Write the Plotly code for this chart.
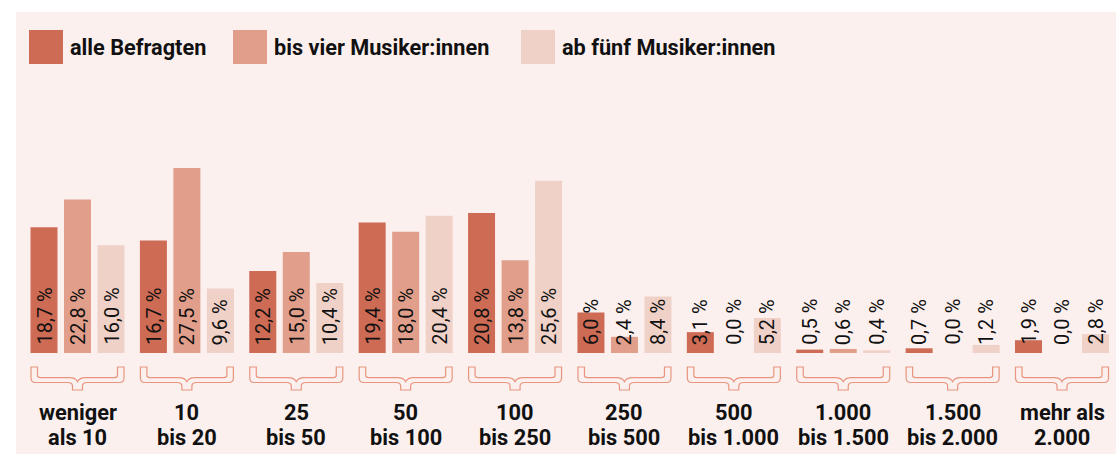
import plotly.graph_objects as go

# ---------------- data ----------------
categories = ["weniger<br>als 10", "10<br>bis 20", "25<br>bis 50", "50<br>bis 100",
              "100<br>bis 250", "250<br>bis 500", "500<br>bis 1.000",
              "1.000<br>bis 1.500", "1.500<br>bis 2.000", "mehr als<br>2.000"]
series_names = ["alle Befragten", "bis vier Musiker:innen", "ab fünf Musiker:innen"]
alle_befragten = [18.7, 16.7, 12.2, 19.4, 20.8, 6.0, 3.1, 0.5, 0.7, 1.9]
bis_vier = [22.8, 27.5, 15.0, 18.0, 13.8, 2.4, 0.0, 0.6, 0.0, 0.0]
ab_fuenf = [16.0, 9.6, 10.4, 20.4, 25.6, 8.4, 5.2, 0.4, 1.2, 2.8]
series_values = [alle_befragten, bis_vier, ab_fuenf]
colors = ["#CE6B54", "#E19F8B", "#F0D1C7"]

# ---------------- layout constants ----------------
W, H = 1116, 454
PX_PER_CAT = 109.39
FIRST_CAT_PX = 77.5
BASE_PX = 353
PX_PER_PCT = 6.73
BAR_PITCH = 33.5 / PX_PER_CAT
BAR_WIDTH = 27 / PX_PER_CAT
BG = "#FBF0EE"
BRACE_COLOR = "#E8957F"
TEXT = "#111111"
FONT = "Roboto"

x_range = [-FIRST_CAT_PX / PX_PER_CAT, (W - FIRST_CAT_PX) / PX_PER_CAT]
y_range = [-(H - BASE_PX) / PX_PER_PCT, BASE_PX / PX_PER_PCT]

fig = go.Figure()
idx = list(range(len(categories)))

for k, (name, vals, col) in enumerate(zip(series_names, series_values, colors)):
    xs = [i + (k - 1) * BAR_PITCH for i in idx]
    fig.add_trace(go.Bar(x=xs, y=vals, width=BAR_WIDTH, name=name,
                         marker=dict(color=col, line=dict(width=0)),
                         showlegend=False, hoverinfo="skip"))
    for x, v in zip(xs, vals):
        fig.add_annotation(x=x, y=0, xref="x", yref="y",
                           text=f"{v:.1f}".replace(".", ",") + " %",
                           textangle=-90, xanchor="center", yanchor="bottom",
                           yshift=6, showarrow=False,
                           font=dict(family=FONT, size=20, color=TEXT))

# braces and category labels
brace_path = ("M -46.5,-14 L -46.5,-25 Q -46.5,-29.5 -42,-29.5 L -10,-29.5 "
              "Q -5,-29.5 -5,-33 L -5,-37 L 5,-37 L 5,-33 Q 5,-29.5 10,-29.5 "
              "L 42,-29.5 Q 46.5,-29.5 46.5,-25 L 46.5,-14 L 40,-14 L 40,-22 "
              "Q 40,-24.7 37,-24.7 L 8,-24.7 Q 2,-24.7 0,-28.7 Q -2,-24.7 -8,-24.7 "
              "L -37,-24.7 Q -40,-24.7 -40,-22 L -40,-14 Z")
shapes = [dict(type="rect", xref="paper", yref="paper", x0=16 / W, x1=1,
               y0=0, y1=1 - 12 / H, fillcolor=BG, line=dict(width=0), layer="below")]
line_centers = [412.5, 437.5]
for i, cat in zip(idx, categories):
    shapes.append(dict(type="path", xref="x", yref="y", xsizemode="pixel",
                       ysizemode="pixel", xanchor=i, yanchor=0, path=brace_path,
                       line=dict(color=BRACE_COLOR, width=1.2),
                       fillcolor="rgba(0,0,0,0)"))
    for line_text, cy in zip(cat.split("<br>"), line_centers):
        fig.add_annotation(x=i, y=1 - cy / H, xref="x", yref="paper", text=line_text,
                           showarrow=False, xanchor="center", yanchor="middle",
                           font=dict(family=FONT, size=21.8, color=TEXT, weight=700))

# custom legend
legend_x = [29, 233, 521]
for lx, name, col in zip(legend_x, series_names, colors):
    shapes.append(dict(type="rect", xref="paper", yref="paper",
                       x0=lx / W, x1=(lx + 34) / W, y0=1 - 64 / H, y1=1 - 30 / H,
                       fillcolor=col, line=dict(width=0)))
    fig.add_annotation(x=(lx + 39) / W, y=1 - 47 / H, xref="paper", yref="paper",
                       text=name, showarrow=False, xanchor="left", yanchor="middle",
                       font=dict(family=FONT, size=21.7, color=TEXT, weight=700))

fig.update_layout(
    width=W, height=H, margin=dict(l=0, r=0, t=0, b=0),
    paper_bgcolor="white", plot_bgcolor="rgba(0,0,0,0)",
    barmode="overlay", shapes=shapes,
    xaxis=dict(range=x_range, visible=False, fixedrange=True),
    yaxis=dict(range=y_range, visible=False, fixedrange=True),
    font=dict(family=FONT, color=TEXT),
)

fig.write_html("out.html", config={"displayModeBar": False},
               post_script="document.body.style.margin='0';")
